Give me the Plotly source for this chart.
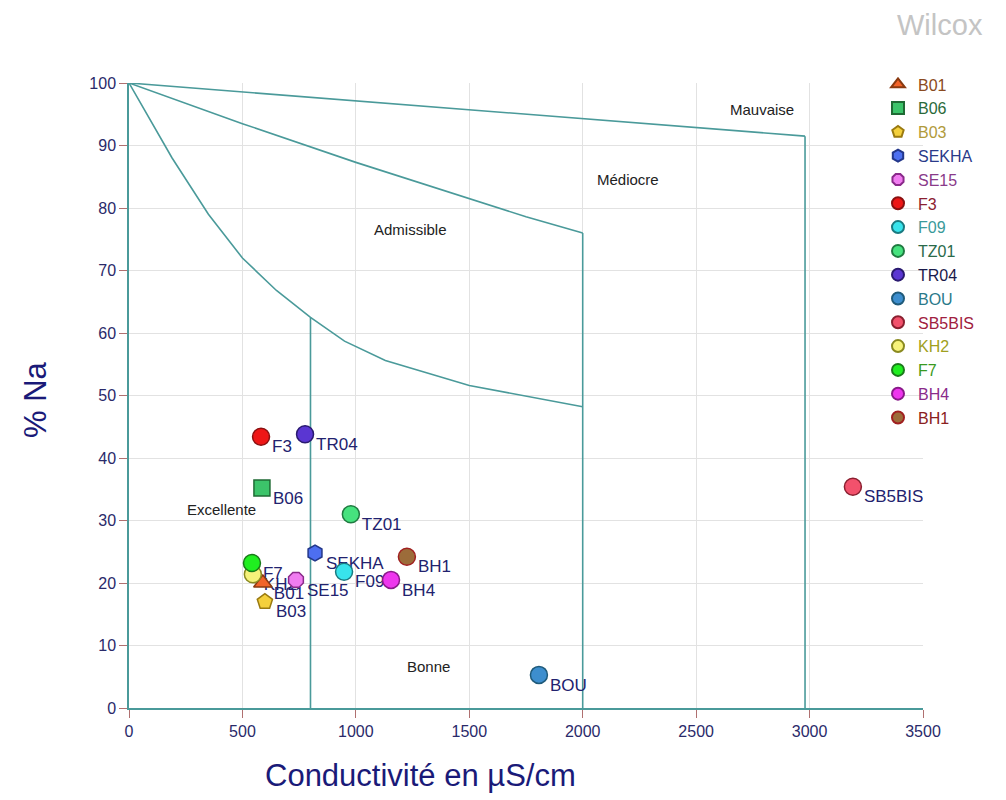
import plotly.graph_objects as go

# Sample points: name, conductivity (µS/cm), % Na
names = ["B01", "B06", "B03", "SEKHA", "SE15", "F3", "F09", "TZ01", "TR04",
         "BOU", "SB5BIS", "KH2", "F7", "BH4", "BH1"]
conductivity = [590, 586, 599, 820, 736, 582, 948, 978, 776,
                1807, 3191, 546, 542, 1155, 1225]
pct_na = [20.0, 35.2, 17.0, 24.8, 20.5, 43.4, 21.8, 31.0, 43.8,
          5.3, 35.4, 21.4, 23.2, 20.5, 24.2]

symbols = ["triangle-up", "square", "pentagon", "hexagon", "octagon", "circle",
           "circle", "circle", "circle", "circle", "circle", "circle", "circle",
           "circle", "circle"]
fill_colors = ["#f2642a", "#3cc46a", "#f4d03c", "#4d6ff0", "#f07cf0", "#ee1616",
               "#38e4ec", "#46e27e", "#5a36d2", "#3d8ece", "#f2516c", "#f6f27a",
               "#20ee20", "#ee36ee", "#9c6c3a"]
line_colors = ["#8a3a10", "#1f6a34", "#9a7a10", "#23378a", "#8a2a8a", "#8a1010",
               "#1a7a80", "#1f7a40", "#2a1a70", "#1f5a7a", "#8a2030", "#8a8a20",
               "#1a7a1a", "#8a1a8a", "#a02020"]
legend_text_colors = ["#8a4a20", "#2a6a3a", "#b09a3a", "#2a3a8a", "#8a3a8a", "#8a2030",
                      "#3a9a9a", "#2a6a4a", "#1a1a4a", "#2a7a8a", "#a02040", "#a0a020",
                      "#3a9a20", "#8a2a8a", "#8a2020"]

# Wilcox classification boundaries
upper_x = [0, 2980]
upper_y = [100, 91.5]
middle_x = [0, 500, 1000, 1500, 1750, 2000]
middle_y = [100, 93.5, 87.3, 81.5, 78.6, 76.0]
lower_x = [0, 100, 190, 350, 500, 650, 800, 950, 1130, 1500, 2000]
lower_y = [100, 93.8, 88.0, 79.0, 72.0, 66.8, 62.5, 58.7, 55.6, 51.6, 48.2]
vertical_x = [800, 2000, 2980]
vertical_top = [62.5, 76.0, 91.5]

zone_names = ["Mauvaise", "Médiocre", "Admissible", "Excellente", "Bonne"]
zone_x = [2790, 2199, 1243, 406, 1322]
zone_y = [95.7, 84.5, 76.6, 31.7, 6.7]

x_ticks = [0, 500, 1000, 1500, 2000, 2500, 3000, 3500]
y_ticks = [0, 10, 20, 30, 40, 50, 60, 70, 80, 90, 100]

LINE = "#4a9a9a"
LABEL = "#22226e"
FONT = "Liberation Sans, Arial, sans-serif"
LABEL_LIFT = 1.3  # raises point labels slightly toward their markers

fig = go.Figure()

for bx, by in [(upper_x, upper_y), (middle_x, middle_y), (lower_x, lower_y)]:
    fig.add_trace(go.Scatter(x=bx, y=by, mode="lines", line=dict(color=LINE, width=1.6),
                             showlegend=False, hoverinfo="skip"))
for vx, vt in zip(vertical_x, vertical_top):
    fig.add_trace(go.Scatter(x=[vx, vx], y=[0, vt], mode="lines",
                             line=dict(color=LINE, width=1.6),
                             showlegend=False, hoverinfo="skip"))

# Point labels first so that every marker sits above them
for n, cx, cy in zip(names, conductivity, pct_na):
    fig.add_trace(go.Scatter(x=[cx], y=[cy + LABEL_LIFT], mode="markers+text", text=[n],
                             textposition="bottom right",
                             textfont=dict(family=FONT, size=17, color=LABEL),
                             marker=dict(size=16, opacity=0),
                             showlegend=False, hoverinfo="skip"))

for n, cx, cy, s, fc, lc, tc in zip(names, conductivity, pct_na, symbols,
                                    fill_colors, line_colors, legend_text_colors):
    fig.add_trace(go.Scatter(
        x=[cx], y=[cy], mode="markers",
        name=f"<span style='color:{tc}'>{n}</span>",
        marker=dict(symbol=s, size=17 if s == "circle" else 16, color=fc,
                    line=dict(color=lc, width=1.5)),
    ))

for zn, zx, zy in zip(zone_names, zone_x, zone_y):
    fig.add_annotation(x=zx, y=zy, text=zn, showarrow=False,
                       font=dict(family=FONT, size=15, color="#222222"))

fig.add_annotation(xref="paper", yref="paper", x=(985 - 129) / 794, y=(708 - 25) / 625,
                   xanchor="right", yanchor="middle", text="Wilcox", showarrow=False,
                   font=dict(family=FONT, size=29, color="#c4c4c4"))
fig.add_annotation(xref="paper", yref="paper", x=(420 - 129) / 794, y=-(775 - 708) / 625,
                   xanchor="center", yanchor="middle", text="Conductivité en µS/cm",
                   showarrow=False, font=dict(family=FONT, size=31, color="#1a1a78"))
fig.add_annotation(xref="paper", yref="paper", x=-(129 - 35) / 794, y=(708 - 400) / 625,
                   xanchor="center", yanchor="middle", text="% Na", textangle=-90,
                   showarrow=False, font=dict(family=FONT, size=31, color="#1a1a78"))

fig.update_xaxes(range=[0, 3500], tickvals=x_ticks, showgrid=True, gridcolor="#e2e2e2",
                 gridwidth=1, zeroline=False, showline=True, linecolor=LINE, linewidth=1.5,
                 ticks="outside", ticklen=8, tickcolor="#b07070",
                 tickfont=dict(family=FONT, size=16, color="#2a2a6a"))
fig.update_yaxes(range=[0, 100], tickvals=y_ticks, showgrid=True, gridcolor="#e2e2e2",
                 gridwidth=1, zeroline=False, showline=True, linecolor=LINE, linewidth=1.5,
                 ticks="outside", ticklen=8, tickcolor="#b07070",
                 tickfont=dict(family=FONT, size=16, color="#2a2a6a"))

fig.update_layout(
    width=1006, height=800,
    margin=dict(l=129, r=83, t=83, b=92),
    plot_bgcolor="white", paper_bgcolor="white",
    font=dict(family=FONT),
    legend=dict(x=(878 - 129) / 794, y=1.025, xanchor="left", yanchor="top",
                bgcolor="rgba(0,0,0,0)", font=dict(family=FONT, size=16),
                tracegroupgap=0, itemsizing="constant"),
)

fig.write_html("out.html")
